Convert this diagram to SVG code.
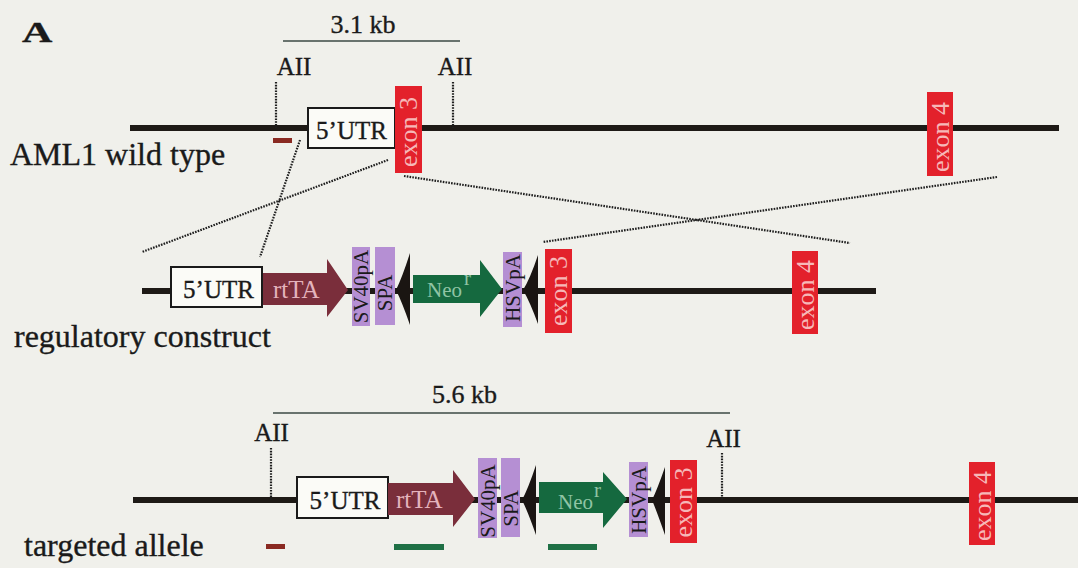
<svg xmlns="http://www.w3.org/2000/svg" width="1078" height="568" viewBox="0 0 1078 568">
<style>
.t{font-family:"Liberation Serif","Times New Roman",serif;fill:#1a1a1a;stroke:#1a1a1a;stroke-width:0.35}
.dna{stroke:#1e1a16;stroke-width:6;fill:none}
.dot{stroke:#1e1e1e;stroke-width:2.2;stroke-dasharray:1.6 1.2;fill:none}
.scale{stroke:#3c4a44;stroke-width:1.6}
.exon{fill:#e3212b}
.exl{font-family:"Liberation Serif",serif;fill:#f6b8b8;font-size:26px}
.utr{fill:#fbfbf7;stroke:#1a1a1a;stroke-width:2}
.pa{fill:#b58fd3}
.pal{font-family:"Liberation Serif",serif;fill:#1a1a1a;font-size:21px}
.rt{fill:#7a2e3b}
.rtl{font-family:"Liberation Serif",serif;fill:#e4b3bc;font-size:25px}
.neo{fill:#15693f}
.neol{font-family:"Liberation Serif",serif;fill:#8fc4a4;font-size:21px}
.lox{fill:#1a1512}
</style>
<rect width="1078" height="568" fill="#f0f0eb"/>

<text class="t" transform="translate(22,42) scale(1.45,1)" x="0" y="0" font-size="29" font-weight="bold" stroke-width="0.6">A</text>

<g id="connectors">
  <line class="dot" x1="300" y1="140" x2="260" y2="257"/>
  <line class="dot" x1="388" y1="160" x2="142" y2="252"/>
  <line class="dot" x1="404" y1="176" x2="850" y2="243"/>
  <line class="dot" x1="997" y1="177" x2="543" y2="242"/>
</g>

<g id="wildtype">
  <line class="dna" x1="130" y1="128" x2="1059" y2="128"/>
  <line class="scale" x1="283" y1="41" x2="460" y2="41"/>
  <text class="t" x="363" y="33" font-size="26" text-anchor="middle">3.1 kb</text>
  <text class="t" x="294" y="75" font-size="25" text-anchor="middle">AII</text>
  <text class="t" x="455" y="75" font-size="25" text-anchor="middle">AII</text>
  <line class="dot" x1="276" y1="82" x2="276" y2="128"/>
  <line class="dot" x1="453" y1="82" x2="453" y2="128"/>
  <rect x="273" y="138" width="19" height="5" fill="#8a2a22"/>
  <rect class="utr" x="308" y="108" width="87" height="40"/>
  <text class="t" x="351.5" y="139" font-size="25" text-anchor="middle">5’UTR</text>
  <rect class="exon" x="395" y="86" width="27" height="87"/>
  <text class="exl" transform="translate(408.5,132) rotate(-90)" text-anchor="middle" dominant-baseline="central">exon 3</text>
  <rect class="exon" x="927" y="92" width="26" height="84"/>
  <text class="exl" transform="translate(940,137) rotate(-90)" text-anchor="middle" dominant-baseline="central">exon 4</text>
  <text class="t" x="10" y="165" font-size="32">AML1 wild type</text>
</g>

<g id="construct">
  <line class="dna" x1="142" y1="291" x2="876" y2="291"/>
  <rect class="utr" x="171" y="267" width="91" height="40"/>
  <text class="t" x="218.5" y="298" font-size="25" text-anchor="middle">5’UTR</text>
  <path class="rt" d="M263,273 H327 V259 L348,290 L327,317 V305 H263 Z"/>
  <text class="rtl" x="273" y="298">rtTA</text>
  <rect class="pa" x="352" y="247" width="18" height="79"/>
  <text class="pal" transform="translate(361,286.5) rotate(-90)" text-anchor="middle" dominant-baseline="central">SV40pA</text>
  <rect class="pa" x="375" y="247" width="20" height="78"/>
  <text class="pal" transform="translate(385,293) rotate(-90)" text-anchor="middle" dominant-baseline="central">SPA</text>
  <path class="lox" d="M410,253 Q402,278 396,290 Q402,302 410,325 Z"/>
  <path class="neo" d="M413,275 H480 V260 L502,289 L480,317 V303 H413 Z"/>
  <text class="neol" x="427" y="297">Neo</text>
  <text class="neol" x="464" y="285" font-size="11">r</text>
  <rect class="pa" x="503" y="252" width="19" height="75"/>
  <text class="pal" transform="translate(512.5,288) rotate(-90)" text-anchor="middle" dominant-baseline="central">HSVpA</text>
  <path class="lox" d="M538,255 Q530,279 523,290 Q530,302 538,324 Z"/>
  <rect class="exon" x="545" y="249" width="27" height="84"/>
  <text class="exl" transform="translate(558.5,291) rotate(-90)" text-anchor="middle" dominant-baseline="central">exon 3</text>
  <rect class="exon" x="792" y="251" width="26" height="83"/>
  <text class="exl" transform="translate(805,295) rotate(-90)" text-anchor="middle" dominant-baseline="central">exon 4</text>
  <text class="t" x="14" y="347" font-size="32">regulatory construct</text>
</g>

<g id="targeted">
  <line class="dna" x1="133" y1="500" x2="1078" y2="500"/>
  <line class="scale" x1="273" y1="413" x2="730" y2="413"/>
  <text class="t" x="464.5" y="403" font-size="26" text-anchor="middle">5.6 kb</text>
  <text class="t" x="271.5" y="441" font-size="25" text-anchor="middle">AII</text>
  <text class="t" x="723.5" y="447" font-size="25" text-anchor="middle">AII</text>
  <line class="dot" x1="271" y1="448" x2="271" y2="500"/>
  <line class="dot" x1="722" y1="453" x2="722" y2="500"/>
  <rect class="utr" x="297" y="477" width="91" height="41"/>
  <text class="t" x="345" y="509" font-size="25" text-anchor="middle">5’UTR</text>
  <path class="rt" d="M388,483 H453 V470 L475,499 L453,527 V515 H388 Z"/>
  <text class="rtl" x="396" y="508">rtTA</text>
  <rect class="pa" x="478" y="458" width="19" height="80"/>
  <text class="pal" transform="translate(487.5,501) rotate(-90)" text-anchor="middle" dominant-baseline="central">SV40pA</text>
  <rect class="pa" x="501" y="458" width="19" height="79"/>
  <text class="pal" transform="translate(510.5,508.5) rotate(-90)" text-anchor="middle" dominant-baseline="central">SPA</text>
  <path class="lox" d="M536,465 Q528,489 522,500 Q528,512 536,535 Z"/>
  <path class="neo" d="M539,482 H603 V472 L627,499 L603,528 V513 H539 Z"/>
  <text class="neol" x="558" y="509">Neo</text>
  <text class="neol" x="594" y="497" font-size="11">r</text>
  <rect class="pa" x="629" y="462" width="19" height="75"/>
  <text class="pal" transform="translate(638.5,500) rotate(-90)" text-anchor="middle" dominant-baseline="central">HSVpA</text>
  <path class="lox" d="M665,467 Q657,490 652,500 Q657,512 665,535 Z"/>
  <rect class="exon" x="670" y="460" width="27" height="83"/>
  <text class="exl" transform="translate(683.5,502.5) rotate(-90)" text-anchor="middle" dominant-baseline="central">exon 3</text>
  <rect class="exon" x="969" y="462" width="26" height="83"/>
  <text class="exl" transform="translate(982,506) rotate(-90)" text-anchor="middle" dominant-baseline="central">exon 4</text>
  <rect x="266" y="544" width="19" height="5" fill="#8a2a22"/>
  <rect x="394" y="544" width="50" height="6" fill="#1f7045"/>
  <rect x="548" y="544" width="49" height="6" fill="#1f7045"/>
  <text class="t" x="24" y="556" font-size="32">targeted allele</text>
</g>
</svg>
